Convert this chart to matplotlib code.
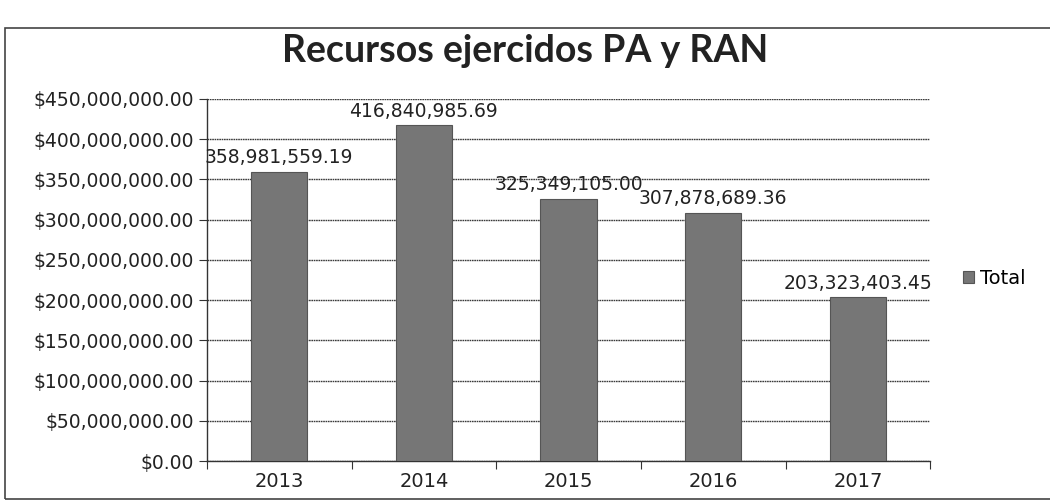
import matplotlib
matplotlib.use("Agg")
import matplotlib.pyplot as plt
from matplotlib.patches import Rectangle
import numpy as np

years = ["2013", "2014", "2015", "2016", "2017"]
totals = [358981559.19, 416840985.69, 325349105.00, 307878689.36, 203323403.45]
value_labels = ["358,981,559.19", "416,840,985.69", "325,349,105.00",
                "307,878,689.36", "203,323,403.45"]
y_ticks = [0, 50e6, 100e6, 150e6, 200e6, 250e6, 300e6, 350e6, 400e6, 450e6]

fig = plt.figure(figsize=(10.5, 5.04), dpi=100)
ax = fig.add_axes([0.197, 0.085, 0.689, 0.719])

x = np.arange(len(years))
bars = ax.bar(x, totals, width=0.39, color="#767676", edgecolor="#555555",
              linewidth=0.8, label="Total", zorder=3)

for xi, v, lab in zip(x, totals, value_labels):
    ax.text(xi, v + 6e6, lab, ha="center", va="bottom",
            fontsize=13.5, color="#222222", zorder=4)

ax.set_ylim(0, 450e6)
ax.set_xlim(-0.5, len(years) - 0.5)
ax.set_yticks(y_ticks)
ax.set_yticklabels(["${:,.2f}".format(t) for t in y_ticks], fontsize=13.5, color="#222222")
ax.yaxis.grid(True, color="#3a3a3a", linewidth=1.0, linestyle=(0, (1.2, 0.5)), zorder=0)

# excel style: ticks between categories, labels centered
ax.set_xticks(np.arange(-0.5, len(years), 1.0))
ax.set_xticklabels([])
ax.set_xticks(x, minor=True)
ax.set_xticklabels(years, minor=True, fontsize=14, color="#222222")
ax.tick_params(axis="x", which="minor", length=0, pad=8)
ax.tick_params(axis="x", which="major", length=6, color="#333333", direction="out")
ax.tick_params(axis="y", length=6, color="#333333", pad=3)

for s in ["top", "right"]:
    ax.spines[s].set_visible(False)
for s in ["left", "bottom"]:
    ax.spines[s].set_color("#333333")
    ax.spines[s].set_linewidth(1.0)

fig.text(0.50, 0.898, "Recursos ejercidos PA y RAN", ha="center", va="center",
         fontsize=27, fontweight="bold", family="Lato", color="#222222")

leg = fig.legend(handles=[bars], labels=["Total"], loc="center left",
                 bbox_to_anchor=(0.9, 0.448), frameon=False, fontsize=14,
                 handlelength=0.6, handleheight=0.6, handletextpad=0.3)

# outer chart border
fig.patches.append(Rectangle((0.005, 0.01), 1.2, 0.935, transform=fig.transFigure,
                             fill=False, edgecolor="#444444", linewidth=1.2))

fig.savefig("out.png", dpi=100, facecolor="white")
